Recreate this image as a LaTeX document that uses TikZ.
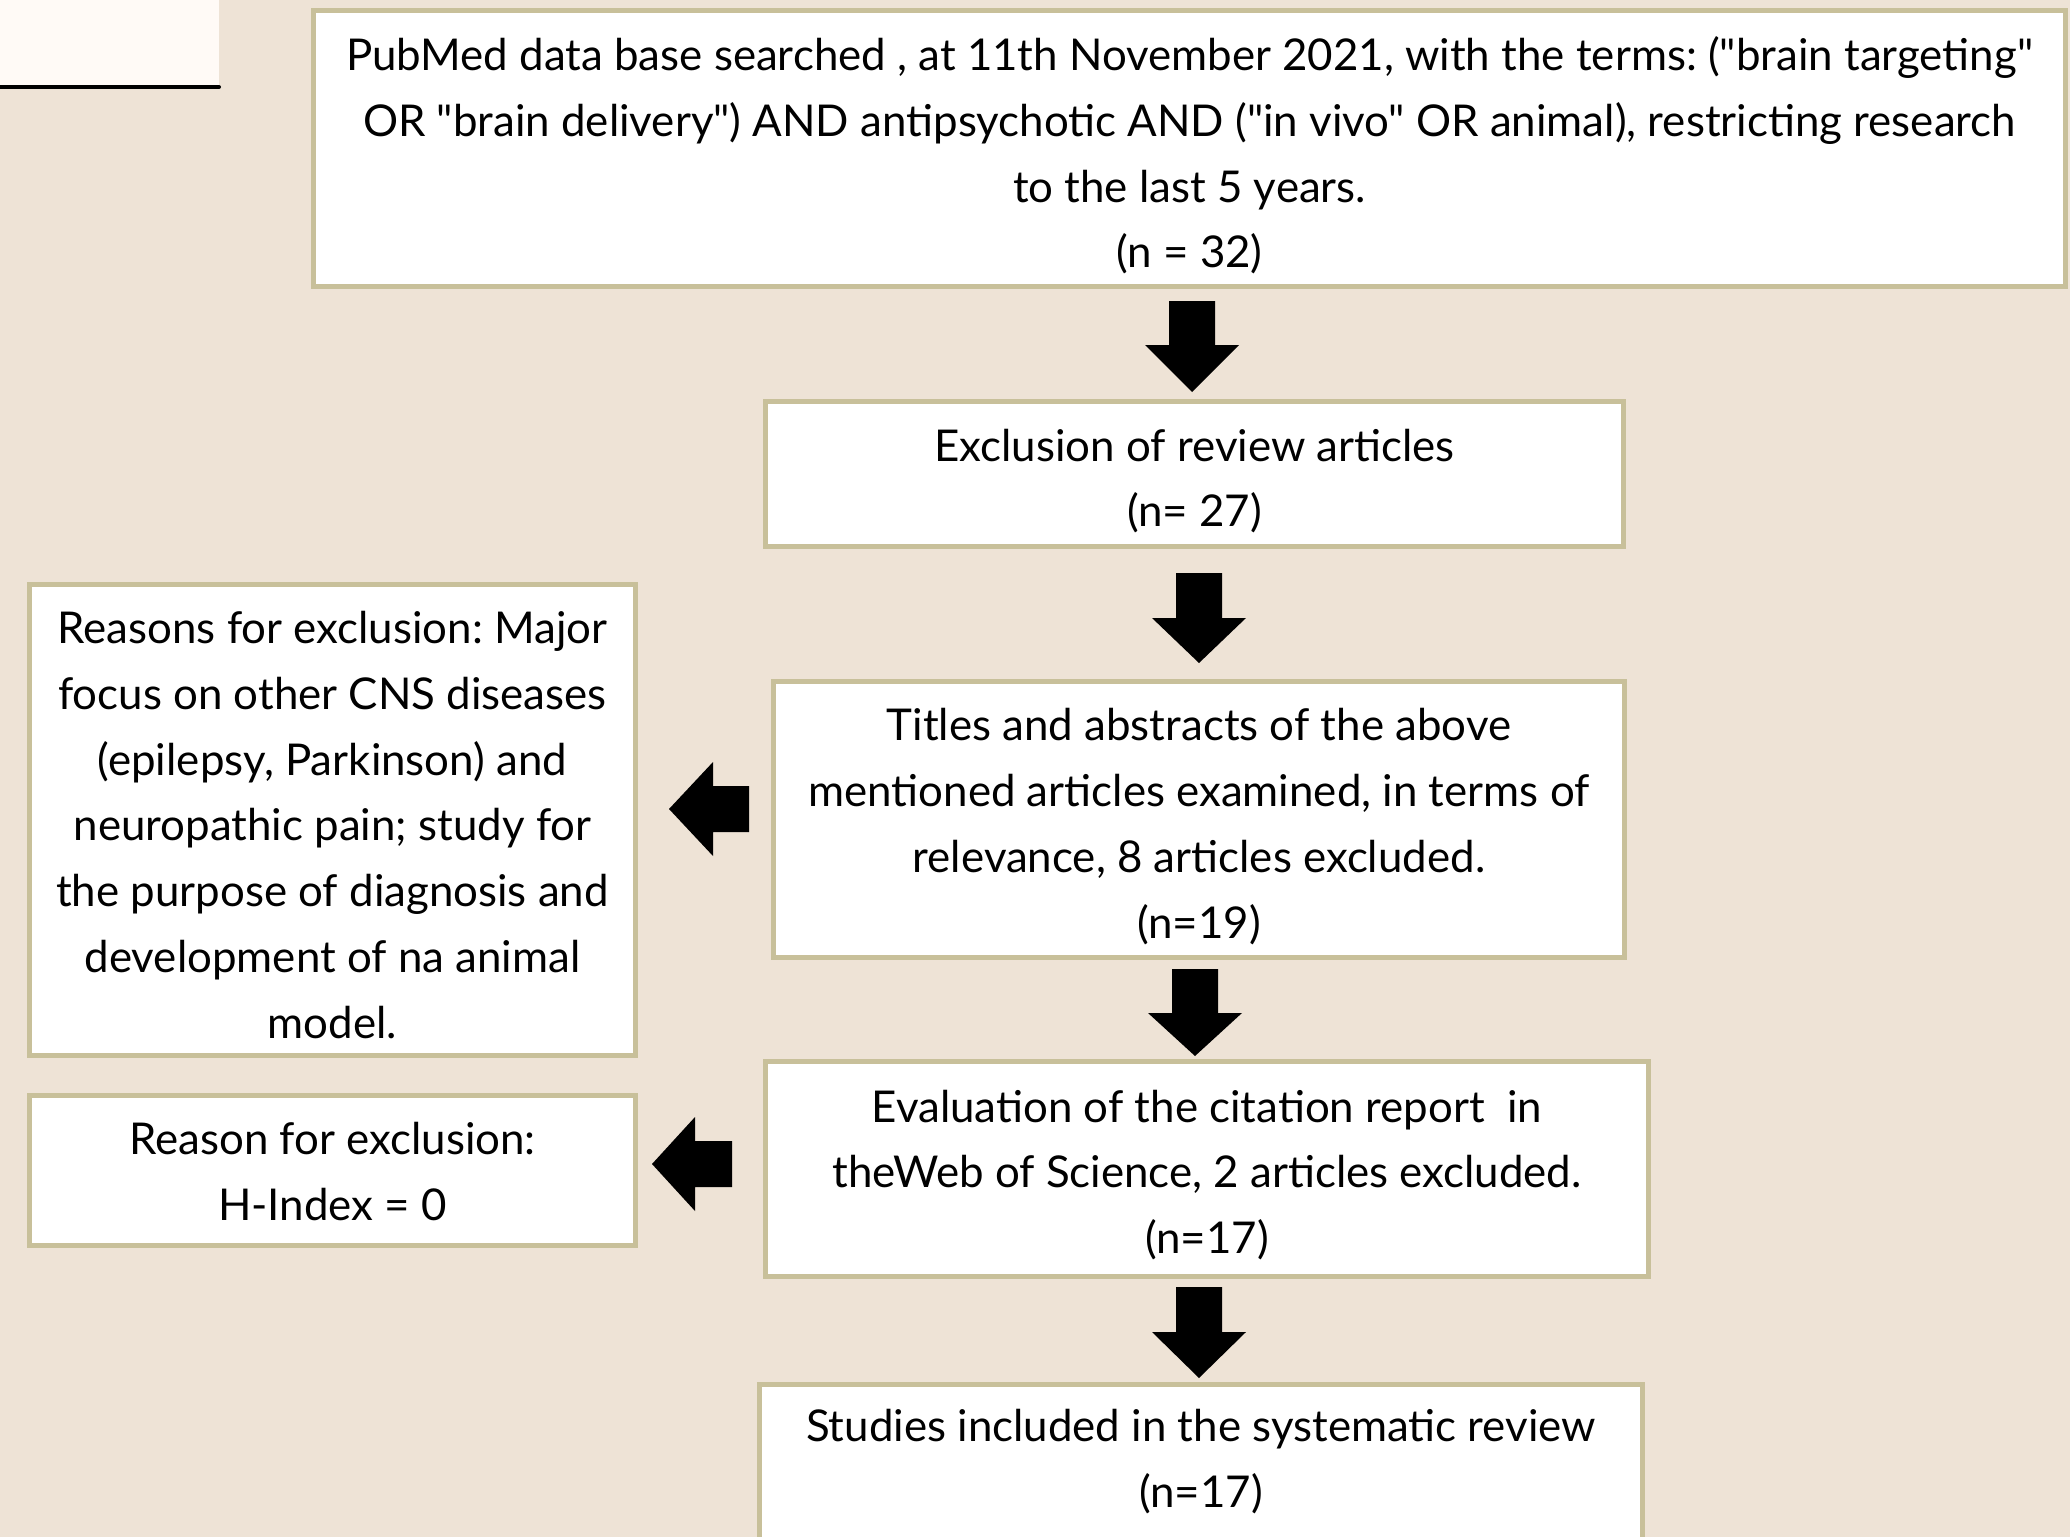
\documentclass[tikz,border=0pt]{standalone}
\usepackage{fontspec}
\setmainfont{Lato}[Ligatures=TeXOff]
\definecolor{bgcol}{RGB}{238,227,214}
\definecolor{bordercol}{RGB}{200,192,154}
\definecolor{cornercol}{RGB}{255,250,246}
\tikzset{
  flowbox/.style={draw=bordercol, line width=5bp, fill=white, inner sep=0pt},
  boxtext/.style={align=center, inner sep=0pt, font=\fontsize{44}{66}\selectfont\frenchspacing},
  blockarrow/.style={fill=black}
}
\newcommand{\downarrowblock}[4]{% cx, ytop, ybase, ytip
  \fill[blockarrow] ({#1-23},#2) -- ({#1+23},#2) -- ({#1+23},#3) -- ({#1+47},#3) -- (#1,#4)
    -- ({#1-47},#3) -- ({#1-23},#3) -- cycle;}
\newcommand{\leftarrowblock}[4]{% cy, xtip, xbase, xend
  \fill[blockarrow] (#2,#1) -- (#3,{#1-47}) -- (#3,{#1-23}) -- (#4,{#1-23}) -- (#4,{#1+23})
    -- (#3,{#1+23}) -- (#3,{#1+47}) -- cycle;}
\begin{document}
\begin{tikzpicture}[x=1bp,y=-1bp]
\fill[bgcol] (0,0) rectangle (2070,1537);
\useasboundingbox (0,0) rectangle (2070,1537);
\fill[cornercol] (0,0) rectangle (219,86);
\draw[line width=4bp, line cap=round] (0,87) -- (219,87);

\node[flowbox, minimum width=1752bp, minimum height=276bp] (search) at (1189.5,148.5) {};
\node[boxtext] (searchtext) at ([yshift=-7bp]search.center)
  {PubMed data base searched , at 11th November 2021, with the terms: ("brain targeting"\\
   OR "brain delivery") AND antipsychotic AND ("in vivo" OR animal), restricting research\\
   to the last 5 years.\\ (n = 32)};
\node[flowbox, minimum width=858bp, minimum height=145bp] (review) at (1194.5,474) {};
\node[boxtext] (reviewtext) at ([yshift=-7bp]review.center)
  {Exclusion of review articles\\ (n= 27)};
\node[flowbox, minimum width=851bp, minimum height=276bp] (titles) at (1199,819.5) {};
\node[boxtext] (titlestext) at ([yshift=-7bp]titles.center)
  {Titles and abstracts of the above\\ mentioned articles examined, in terms of\\
   relevance, 8 articles excluded.\\ (n=19)};
\node[flowbox, minimum width=883bp, minimum height=215bp] (citation) at (1207,1169) {};
\node[boxtext] (citationtext) at ([yshift=-6bp]citation.center)
  {Evaluation of the citation report\ \ in\\ theWeb of Science, 2 articles excluded.\\ (n=17)};
\node[flowbox, minimum width=883bp, minimum height=158bp] (included) at (1201,1463.5) {};
\node[boxtext] (includedtext) at ([yshift=2bp]included.center)
  {Studies included in the systematic review\\ (n=17)};
\node[flowbox, minimum width=606bp, minimum height=471bp] (reasons) at (332.5,820) {};
\node[boxtext] (reasonstext) at ([yshift=-5bp]reasons.center)
  {Reasons for exclusion: Major\\ focus on other CNS diseases\\ (epilepsy, Parkinson) and\\
   neuropathic pain; study for\\ the purpose of diagnosis and\\ development of na animal\\ model.};
\node[flowbox, minimum width=606bp, minimum height=150bp] (hindex) at (332.5,1170.5) {};
\node[boxtext] (hindextext) at ([yshift=-1bp]hindex.center)
  {Reason for exclusion:\\ H-Index = 0};

\downarrowblock{1192}{301}{345}{392}
\downarrowblock{1199}{573}{618}{663}
\downarrowblock{1195}{969}{1013}{1056}
\downarrowblock{1199}{1287}{1332}{1378}
\leftarrowblock{809}{669}{713}{749}
\leftarrowblock{1164}{652}{695}{732}
\end{tikzpicture}
\end{document}
